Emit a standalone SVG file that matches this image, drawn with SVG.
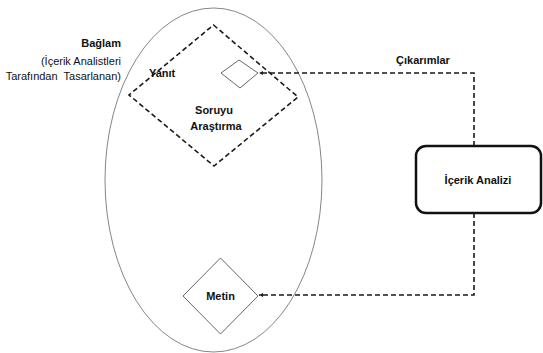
<svg xmlns="http://www.w3.org/2000/svg" width="543" height="353" viewBox="0 0 543 353">
<style>
.t{font-family:"Liberation Sans",Arial,sans-serif;font-size:11px;fill:#111}
.b{font-weight:bold}
.dash{fill:none;stroke:#1a1a1a;stroke-width:1.6;stroke-dasharray:5 3}
.thin{fill:#fff;stroke:#555;stroke-width:0.9}
</style>
<defs>
<marker id="ah" markerWidth="6" markerHeight="6" refX="4" refY="2" orient="auto" markerUnits="userSpaceOnUse">
<path d="M0,0 L4,2 L0,4 Z" fill="#1a1a1a"/>
</marker>
</defs>
<rect width="543" height="353" fill="#fff"/>
<g id="context">
<ellipse cx="213.5" cy="180" rx="108.5" ry="172" fill="none" stroke="#777" stroke-width="0.9"/>
<text class="t b" x="121" y="47" text-anchor="end">Bağlam</text>
<text class="t" x="121" y="65" text-anchor="end">(İçerik Analistleri</text>
<text class="t" x="121" y="80" text-anchor="end" xml:space="preserve">Tarafından  Tasarlanan)</text>
</g>
<g id="question">
<path class="dash" d="M213.5,25 L298,97 L214,166 L129,95 Z"/>
<text class="t b" x="214" y="114" text-anchor="middle">Soruyu</text>
<text class="t b" x="216" y="130" text-anchor="middle">Araştırma</text>
</g>
<g id="answer">
<path class="thin" d="M239,60 L258,73 L240,88 L221,73 Z"/>
<text class="t b" x="149" y="77">Yanıt</text>
</g>
<g id="text-node">
<path class="thin" d="M220.5,258 L258,296 L220.5,334 L183,296 Z"/>
<text class="t b" x="220.5" y="300" text-anchor="middle">Metin</text>
</g>
<g id="analysis">
<rect x="416" y="146" width="125" height="67" rx="10" fill="#fff" stroke="#111" stroke-width="2.5"/>
<text class="t b" x="478" y="184" text-anchor="middle">İçerik Analizi</text>
</g>
<g id="connectors">
<path class="dash" d="M474,146 L474,73 L259,73" marker-end="url(#ah)"/>
<path class="dash" d="M474,213 L474,295 L259,295" marker-end="url(#ah)"/>
<text class="t b" x="423" y="64" text-anchor="middle">Çıkarımlar</text>
</g>
</svg>
